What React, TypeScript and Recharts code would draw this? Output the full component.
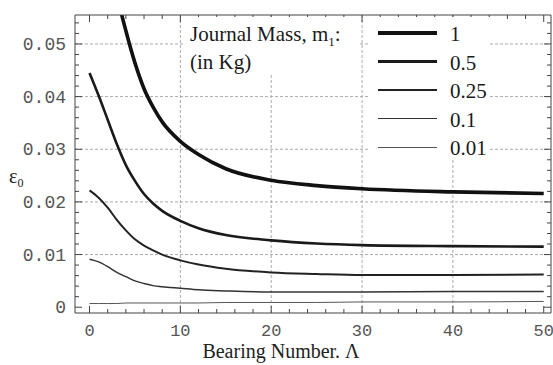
import { LineChart, Line, XAxis, YAxis, ReferenceLine, Legend } from 'recharts';

// bearing number samples
const lambda = [0, 1, 2, 3, 4, 5, 6, 7, 8, 10, 12, 15, 20, 25, 30, 40, 50];

// eccentricity eps0 for each journal mass
const epsM1 = [null, null, 0.069, 0.0595, 0.0525, 0.0464, 0.0415, 0.038, 0.0352, 0.0315, 0.029, 0.0263, 0.0241, 0.0231, 0.0225, 0.0219, 0.0216];
const epsM05 = [0.0445, 0.0402, 0.0356, 0.031, 0.027, 0.024, 0.0215, 0.0197, 0.0183, 0.0164, 0.015, 0.0137, 0.0127, 0.0121, 0.0118, 0.0116, 0.0115];
const epsM025 = [0.0222, 0.0208, 0.0189, 0.0166, 0.0146, 0.0129, 0.0117, 0.0108, 0.01, 0.0089, 0.0081, 0.0073, 0.0066, 0.0063, 0.0061, 0.0061, 0.0062];
const epsM01 = [0.0091, 0.0086, 0.0077, 0.0066, 0.0058, 0.005, 0.0045, 0.0041, 0.0039, 0.0036, 0.0033, 0.0031, 0.0029, 0.0029, 0.0029, 0.003, 0.003];
const epsM001 = [0.0007, 0.0007, 0.0007, 0.0007, 0.0008, 0.0008, 0.0008, 0.0008, 0.0008, 0.0008, 0.0008, 0.0009, 0.0009, 0.0009, 0.001, 0.001, 0.0011];

const massLabels = ['1', '0.5', '0.25', '0.1', '0.01'];
const massKeys = ['m1', 'm05', 'm025', 'm01', 'm001'];
const strokeWidths = [3.6, 2.6, 2, 1.5, 1];
const strokeColors = ['#111', '#1a1a1a', '#222', '#333', '#555'];

const xTickLabels = [0, 10, 20, 30, 40, 50];
const yTickLabels = [0, 0.01, 0.02, 0.03, 0.04, 0.05];

const data = lambda.map((l, i) => ({
  lambda: l,
  m1: epsM1[i],
  m05: epsM05[i],
  m025: epsM025[i],
  m01: epsM01[i],
  m001: epsM001[i],
}));

const X_DOMAIN = [-1.6, 50.8];
const Y_DOMAIN = [-0.0011, 0.0555];

const xMinor = Array.from({ length: 26 }, (_, i) => i * 2);
const yMinor = Array.from({ length: 28 }, (_, i) => (i * 2) / 1000);

const isMajorX = (v: number) => xTickLabels.includes(v);
const isMajorY = (v: number) => yTickLabels.some((t) => Math.abs(t - v) < 1e-9);

const tickFont = { fontFamily: '"Liberation Mono", "DejaVu Sans Mono", monospace', fill: '#555' };
const serif = '"Liberation Serif", "DejaVu Serif", serif';

const BottomTick = ({ x, y, payload }: any) => {
  const major = isMajorX(payload.value);
  return (
    <g>
      <line x1={x} x2={x} y1={y} y2={y - (major ? 7 : 4)} stroke="#444" />
      {major && (
        <text x={x} y={y + 23} textAnchor="middle" fontSize={17} {...tickFont}>
          {payload.value}
        </text>
      )}
    </g>
  );
};

const TopTick = ({ x, y, payload }: any) => {
  const major = isMajorX(payload.value);
  return <line x1={x} x2={x} y1={y} y2={y + (major ? 7 : 4)} stroke="#444" />;
};

const LeftTick = ({ x, y, payload }: any) => {
  const major = isMajorY(payload.value);
  return (
    <g>
      <line x1={x} x2={x + (major ? 7 : 4)} y1={y} y2={y} stroke="#444" />
      {major && (
        <text x={x - 9} y={y + 6} textAnchor="end" fontSize={18} {...tickFont}>
          {payload.value}
        </text>
      )}
    </g>
  );
};

const RightTick = ({ x, y, payload }: any) => {
  const major = isMajorY(payload.value);
  return <line x1={x} x2={x - (major ? 7 : 4)} y1={y} y2={y} stroke="#444" />;
};

const XLabel = ({ viewBox }: any) => (
  <text x={281} y={viewBox.y + 45} textAnchor="middle" fontSize={20} fontFamily={serif} fill="#222">
    Bearing Number. Λ
  </text>
);

const YLabel = ({ viewBox }: any) => (
  <text x={viewBox.x + 9} y={viewBox.y + 168} fontSize={20} fontFamily={serif} fill="#222">
    ε<tspan fontSize={12} dy={4}>0</tspan>
  </text>
);

const MassLegend = () => (
  <div style={{ position: 'relative', fontFamily: serif, color: '#1a1a1a' }}>
    <div style={{ position: 'absolute', left: 185, top: 17, width: 173, height: 58, background: '#fff' }}>
      <div style={{ position: 'absolute', left: 5, top: 4, fontSize: 21, whiteSpace: 'nowrap', lineHeight: '26px' }}>
        Journal Mass, m<sub style={{ fontSize: 13 }}>1</sub>:
      </div>
      <div style={{ position: 'absolute', left: 5, top: 32, fontSize: 21, whiteSpace: 'nowrap', lineHeight: '26px' }}>
        (in Kg)
      </div>
    </div>
    <div style={{ position: 'absolute', left: 370, top: 17, width: 120, height: 143, background: '#fff' }}>
      {massLabels.map((m, i) => (
        <div key={m} style={{ position: 'absolute', left: 0, top: 16 + i * 28.5 - 12, height: 24, width: 120 }}>
          <div
            style={{
              position: 'absolute',
              left: 8,
              top: 12 - strokeWidths[i] / 2,
              width: 59,
              height: strokeWidths[i],
              background: strokeColors[i],
            }}
          />
          <div style={{ position: 'absolute', left: 80, top: 0, fontSize: 21, lineHeight: '26px' }}>{m}</div>
        </div>
      ))}
    </div>
  </div>
);

export default function App() {
  return (
    <div style={{ position: 'absolute', left: 0, top: 0, background: '#fff' }}>
      <LineChart width={553} height={365} data={data} margin={{ top: 14, right: 1, left: 0, bottom: 0 }}>
        {[10, 20, 30, 40].map((v) => (
          <ReferenceLine key={'x' + v} x={v} stroke="#aaa" strokeDasharray="3 2" />
        ))}
        {yTickLabels.slice(1).map((v) => (
          <ReferenceLine key={'y' + v} y={v} stroke="#aaa" strokeDasharray="3 2" />
        ))}
        <XAxis
          dataKey="lambda"
          type="number"
          domain={X_DOMAIN}
          allowDataOverflow
          ticks={xMinor}
          interval={0}
          tickSize={0}
          tickMargin={0}
          tickLine={false}
          tick={<BottomTick />}
          height={52}
          axisLine={{ stroke: '#444' }}
          label={<XLabel />}
        />
        <XAxis
          xAxisId="top"
          dataKey="lambda"
          orientation="top"
          type="number"
          domain={X_DOMAIN}
          allowDataOverflow
          ticks={xMinor}
          interval={0}
          tickSize={0}
          tickMargin={0}
          tickLine={false}
          tick={<TopTick />}
          height={1}
          axisLine={{ stroke: '#444' }}
        />
        <YAxis
          type="number"
          domain={Y_DOMAIN}
          allowDataOverflow
          ticks={yMinor}
          interval={0}
          tickSize={0}
          tickMargin={0}
          tickLine={false}
          tick={<LeftTick />}
          width={75}
          axisLine={{ stroke: '#444' }}
          label={<YLabel />}
        />
        <YAxis
          yAxisId="right"
          orientation="right"
          type="number"
          domain={Y_DOMAIN}
          allowDataOverflow
          ticks={yMinor}
          interval={0}
          tickSize={0}
          tickMargin={0}
          tickLine={false}
          tick={<RightTick />}
          width={1}
          axisLine={{ stroke: '#444' }}
        />
        {massKeys.map((k, i) => (
          <Line
            key={k}
            dataKey={k}
            name={massLabels[i]}
            xAxisId={i === 4 ? 'top' : 0}
            yAxisId={i === 4 ? 'right' : 0}
            type="monotone"
            stroke={strokeColors[i]}
            strokeWidth={strokeWidths[i]}
            dot={false}
            activeDot={false}
            isAnimationActive={false}
          />
        ))}
        <Legend
          content={<MassLegend />}
          layout="vertical"
          align="center"
          verticalAlign="middle"
          wrapperStyle={{ left: 0, top: 0, width: 553, height: 0 }}
        />
      </LineChart>
    </div>
  );
}
